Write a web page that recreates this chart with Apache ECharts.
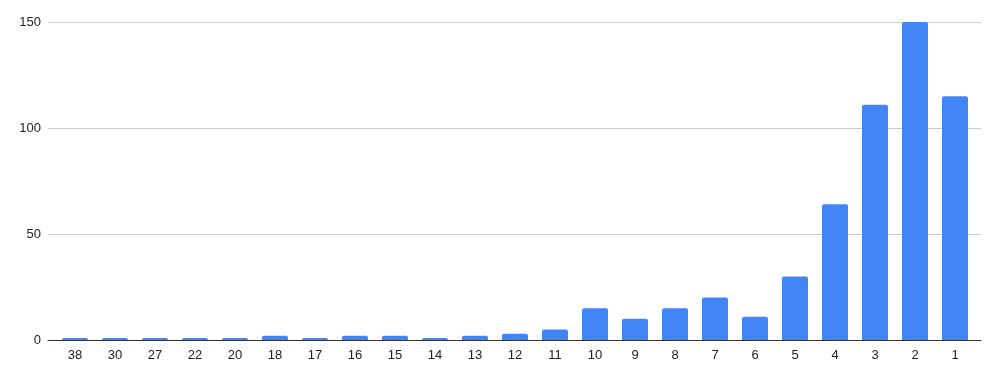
<!DOCTYPE html>
<html>
<head>
<meta charset="utf-8">
<script src="https://cdn.jsdelivr.net/npm/echarts@6/dist/echarts.min.js"></script>
<style>html,body{margin:0;padding:0;background:#fff;}#c{width:1000px;height:377px;}</style>
</head>
<body>
<div id="c"></div>
<script>
const categories = ['38','30','27','22','20','18','17','16','15','14','13','12','11','10','9','8','7','6','5','4','3','2','1'];
const values = [1,1,1,1,1,2,1,2,2,1,2,3,5,15,10,15,20,11,30,64,111,150,115];
const yTicks = { min: 0, max: 150, interval: 50 };

const font = 'Liberation Sans, Arial, sans-serif';
const chart = echarts.init(document.getElementById('c'), null, { renderer: 'canvas' });
chart.setOption({
  animation: false,
  grid: [
    { left: 48, right: 19, top: 22, bottom: 37 },
    { left: 55, right: 25, top: 22, bottom: 37 }
  ],
  xAxis: [
    {
      gridIndex: 0, type: 'category', data: [''],
      axisLine: { lineStyle: { color: '#333', width: 1 } },
      axisTick: { show: false }, axisLabel: { show: false }
    },
    {
      gridIndex: 1, type: 'category', data: categories,
      axisLine: { show: false },
      axisTick: { show: false },
      axisLabel: { color: '#222', fontSize: 13, fontFamily: font, margin: 9 }
    }
  ],
  yAxis: [
    {
      gridIndex: 0, type: 'value',
      min: yTicks.min, max: yTicks.max, interval: yTicks.interval,
      axisLine: { show: false }, axisTick: { show: false },
      splitLine: { lineStyle: { color: '#cccccc', width: 1 } },
      axisLabel: { color: '#222', fontSize: 13, fontFamily: font, margin: 7 }
    },
    {
      gridIndex: 1, type: 'value',
      min: yTicks.min, max: yTicks.max, interval: yTicks.interval,
      axisLine: { show: false }, axisTick: { show: false },
      splitLine: { show: false }, axisLabel: { show: false }
    }
  ],
  series: [{
    type: 'bar',
    xAxisIndex: 1, yAxisIndex: 1,
    data: values,
    barWidth: '65%',
    itemStyle: { color: '#4285f4', borderRadius: [2, 2, 0, 0] }
  }]
});
</script>
</body>
</html>
